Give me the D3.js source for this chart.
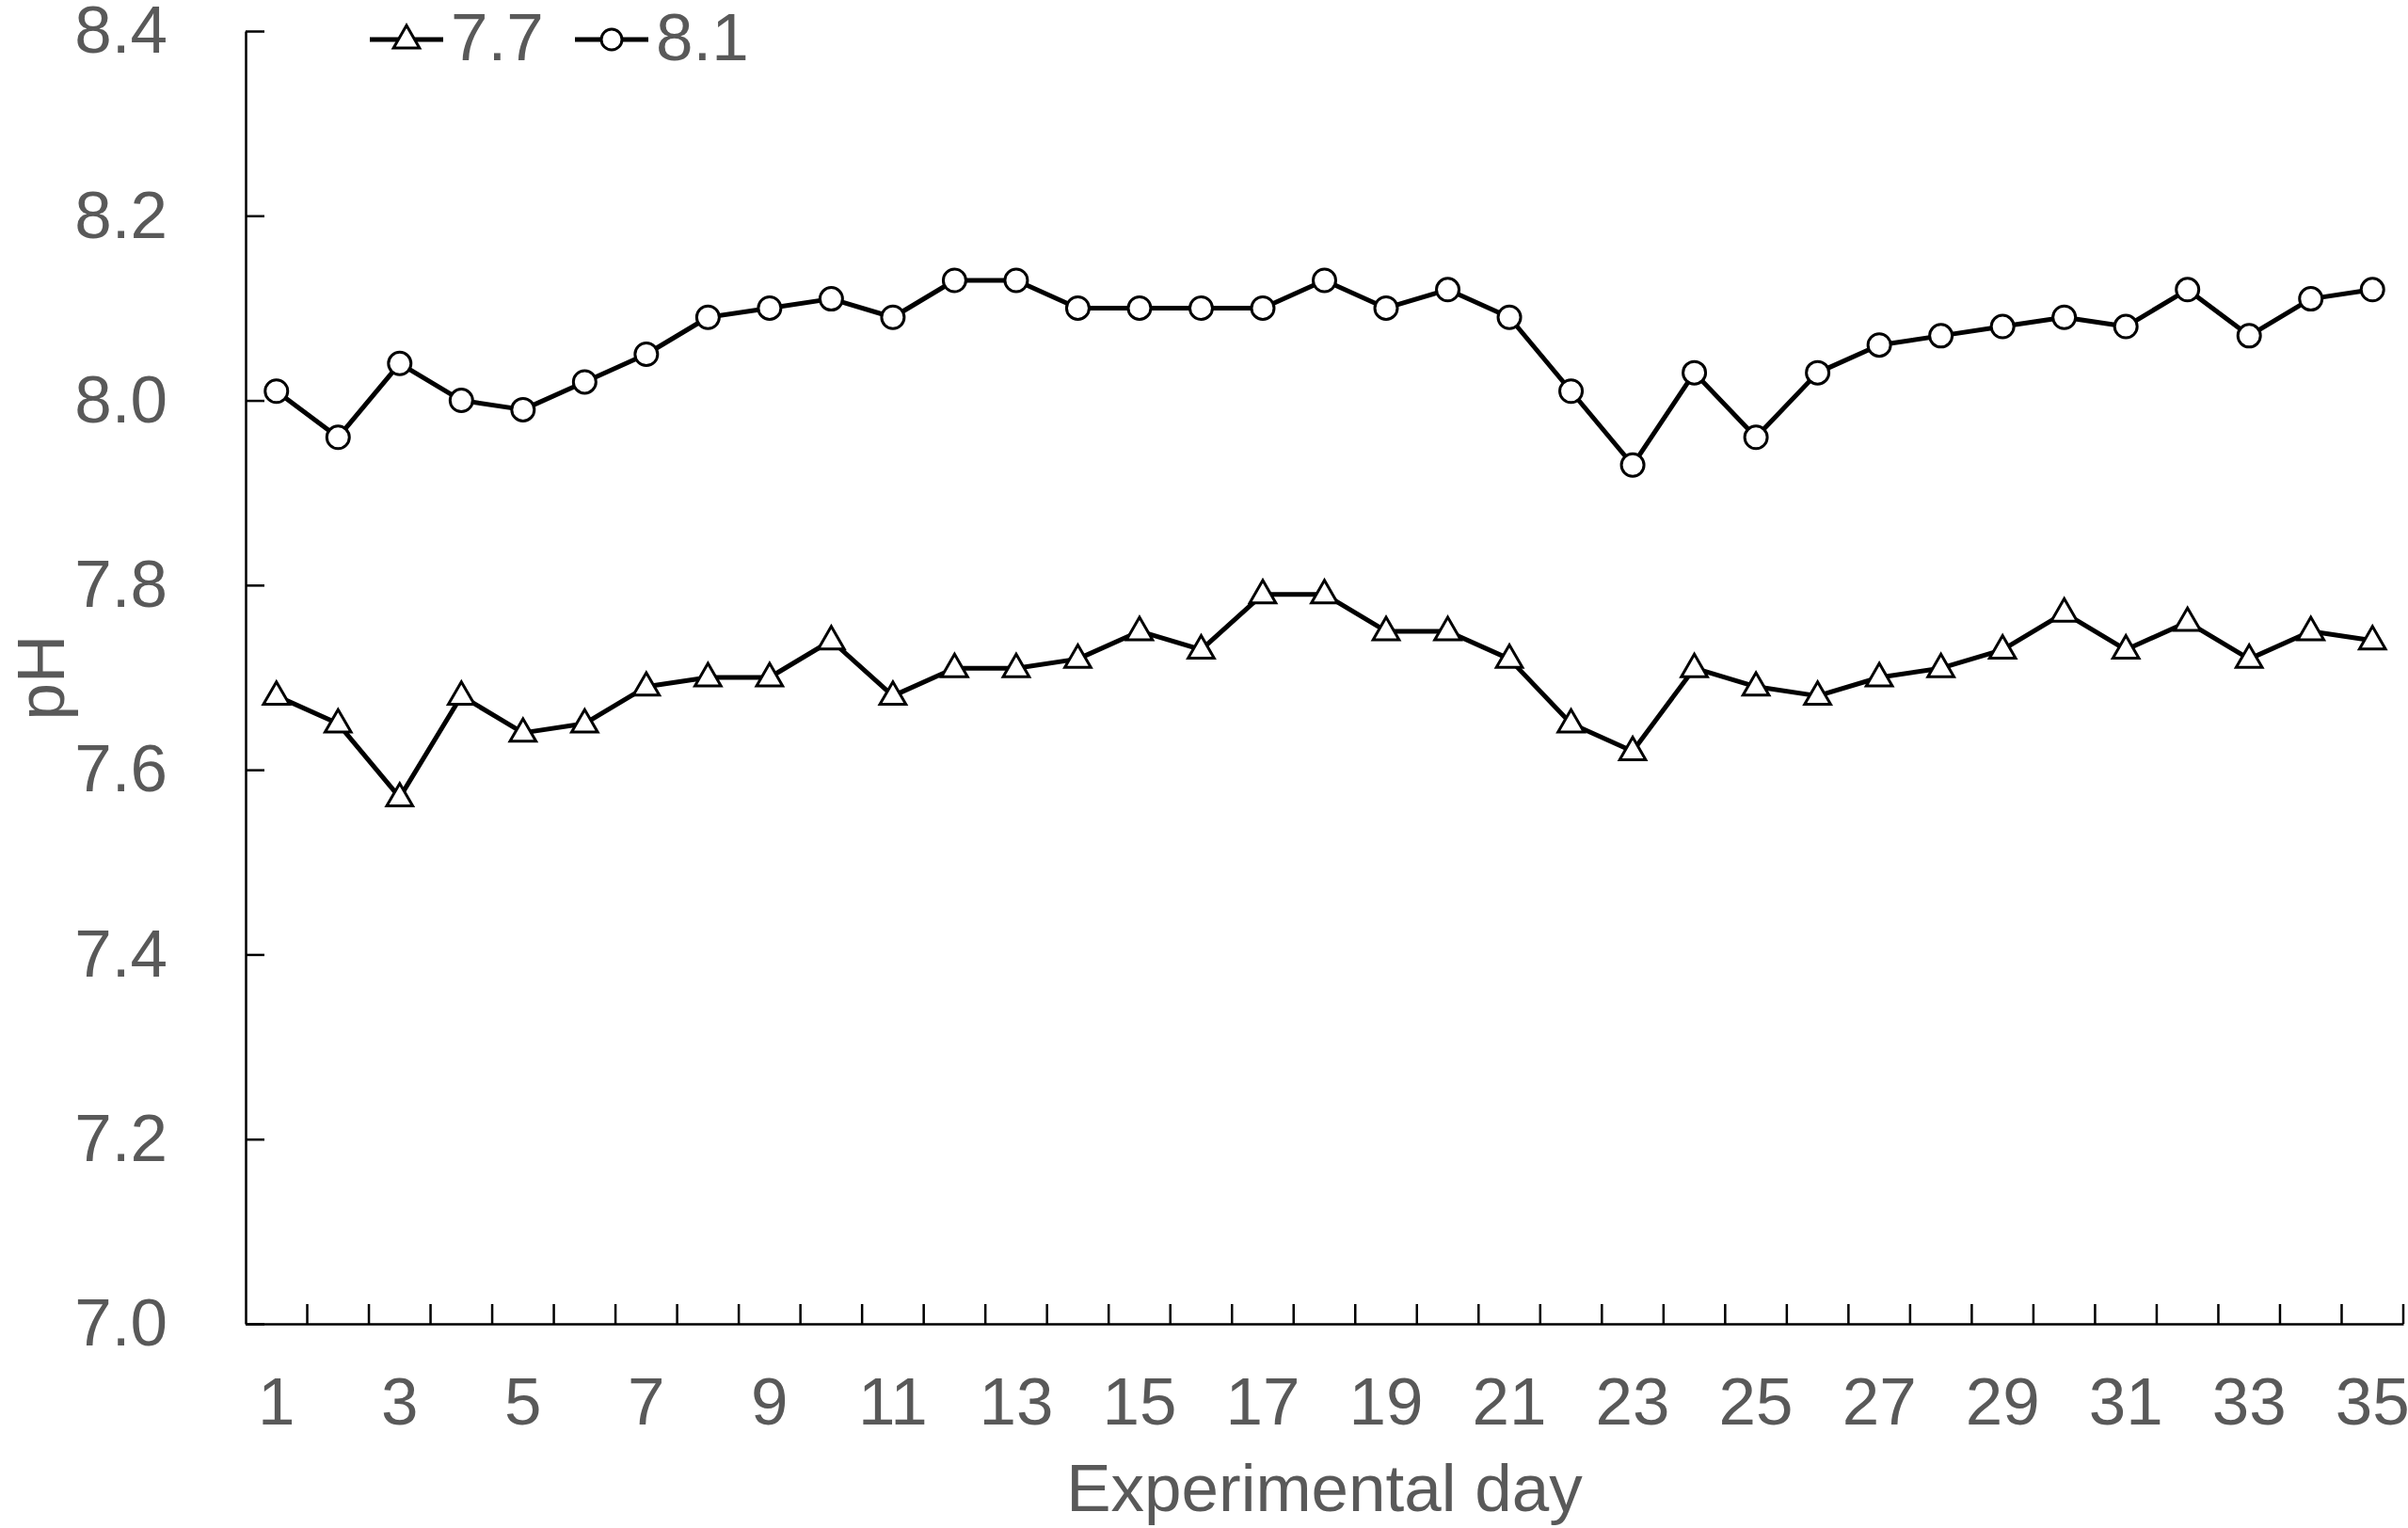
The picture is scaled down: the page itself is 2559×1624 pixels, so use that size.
<!DOCTYPE html>
<html>
<head>
<meta charset="utf-8">
<script src="https://cdn.jsdelivr.net/npm/d3@7"></script>
<style>
  html, body { margin: 0; padding: 0; background: #fff; }
  svg { display: block; }
  text { font-family: "Liberation Sans", Arial, sans-serif; fill: #595959; }
</style>
</head>
<body>
<svg id="chart" width="2559" height="1624"></svg>
<script>
const days = d3.range(1, 36);
const ph77 = [7.68,7.65,7.57,7.68,7.64,7.65,7.69,7.70,7.70,7.74,7.68,7.71,7.71,7.72,7.75,7.73,7.79,7.79,7.75,7.75,7.72,7.65,7.62,7.71,7.69,7.68,7.70,7.71,7.73,7.77,7.73,7.76,7.72,7.75,7.74];
const ph81 = [8.01,7.96,8.04,8.00,7.99,8.02,8.05,8.09,8.10,8.11,8.09,8.13,8.13,8.10,8.10,8.10,8.10,8.13,8.10,8.12,8.09,8.01,7.93,8.03,7.96,8.03,8.06,8.07,8.08,8.09,8.08,8.12,8.07,8.11,8.12];
const yTicks = [7.0, 7.2, 7.4, 7.6, 7.8, 8.0, 8.2, 8.4];
const seriesNames = ["7.7", "8.1"];
const xTitle = "Experimental day";
const yTitle = "pH";

(function () {
const svg = d3.select("#chart");
const mL = 261, mR = 2554, mT = 33, mB = 1407;
const FS = 71;
const LW = 5;

const x = d3.scaleBand().domain(days).range([mL, mR]).padding(0);
const y = d3.scaleLinear().domain([7.0, 8.4]).range([mB, mT]);

// Y axis
const yAxis = d3.axisLeft(y).tickValues(yTicks).tickFormat(d3.format(".1f"))
  .tickSizeInner(-20).tickSizeOuter(0).tickPadding(83);
const gy = svg.append("g").attr("transform", `translate(${mL},0)`).call(yAxis);
gy.select(".domain").attr("stroke", "#000").attr("stroke-width", 2.5);
gy.selectAll(".tick line").attr("stroke", "#000").attr("stroke-width", 2.5);
gy.selectAll(".tick text").attr("font-size", FS).attr("fill", "#595959")
  .style("font-family", '"Liberation Sans", Arial, sans-serif');

// X axis
const xAxis = d3.axisBottom(x).tickSize(0).tickSizeOuter(0).tickPadding(57)
  .tickFormat(d => (d % 2 === 1 ? String(d) : ""));
const gx = svg.append("g").attr("transform", `translate(0,${mB})`).call(xAxis);
gx.select(".domain").attr("stroke", "#000").attr("stroke-width", 2.5);
gx.selectAll(".tick text").attr("font-size", FS).attr("fill", "#595959")
  .style("font-family", '"Liberation Sans", Arial, sans-serif');

// boundary ticks on x axis (pointing up)
svg.append("g").selectAll("line").data(days).join("line")
  .attr("x1", d => x(d) + x.bandwidth()).attr("x2", d => x(d) + x.bandwidth())
  .attr("y1", mB).attr("y2", mB - 21)
  .attr("stroke", "#000").attr("stroke-width", 2.5);

// Axis titles
svg.append("text").attr("x", (mL + mR) / 2).attr("y", 1606)
  .attr("text-anchor", "middle").attr("font-size", FS).text(xTitle);
svg.append("text").attr("transform", `translate(68,${(mT + mB) / 2}) rotate(-90)`)
  .attr("text-anchor", "middle").attr("font-size", FS).text(yTitle);

const cx = d => x(d) + x.bandwidth() / 2;
const line = d3.line().x(d => cx(d.day)).y(d => y(d.v));
const tri = d3.symbol().type(d3.symbolTriangle).size(330);

function drawSeries(vals, kind) {
  const data = days.map((d, i) => ({ day: d, v: vals[i] }));
  svg.append("path").datum(data).attr("d", line)
    .attr("fill", "none").attr("stroke", "#000").attr("stroke-width", LW)
    .attr("stroke-linejoin", "round");
  const g = svg.append("g");
  if (kind === "circle") {
    g.selectAll("circle").data(data).join("circle")
      .attr("cx", d => cx(d.day)).attr("cy", d => y(d.v)).attr("r", 12)
      .attr("fill", "#fff").attr("stroke", "#000").attr("stroke-width", 3);
  } else {
    g.selectAll("path").data(data).join("path")
      .attr("d", tri).attr("transform", d => `translate(${cx(d.day)},${y(d.v) + 1})`)
      .attr("fill", "#fff").attr("stroke", "#000").attr("stroke-width", 3);
  }
}
drawSeries(ph77, "triangle");
drawSeries(ph81, "circle");

// Legend
const leg = svg.append("g");
const legY = 42;
const items = [
  { name: seriesNames[0], kind: "triangle", x0: 393 },
  { name: seriesNames[1], kind: "circle", x0: 611 }
];
items.forEach(it => {
  leg.append("line").attr("x1", it.x0).attr("x2", it.x0 + 78).attr("y1", legY).attr("y2", legY)
    .attr("stroke", "#000").attr("stroke-width", LW);
  if (it.kind === "circle") {
    leg.append("circle").attr("cx", it.x0 + 39).attr("cy", legY).attr("r", 11)
      .attr("fill", "#fff").attr("stroke", "#000").attr("stroke-width", 3);
  } else {
    leg.append("path").attr("d", tri).attr("transform", `translate(${it.x0 + 39},${legY + 1})`)
      .attr("fill", "#fff").attr("stroke", "#000").attr("stroke-width", 3);
  }
  leg.append("text").attr("x", it.x0 + 86).attr("y", 64).attr("font-size", FS).text(it.name);
});
})();
</script>
</body>
</html>
